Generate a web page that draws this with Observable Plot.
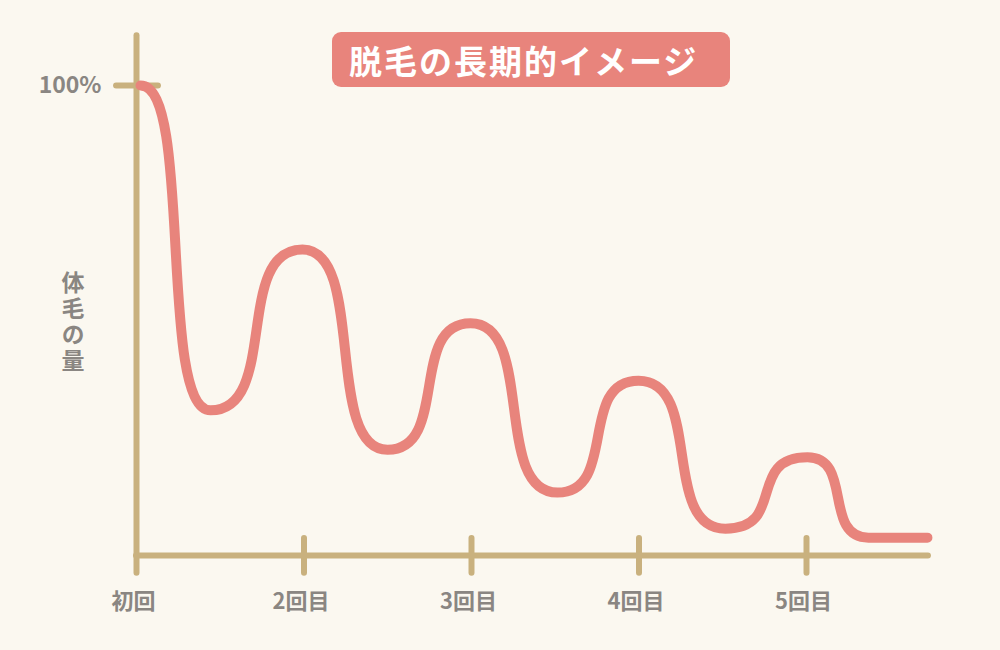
<!DOCTYPE html>
<html><head><meta charset="utf-8">
<script src="https://cdn.jsdelivr.net/npm/d3@7"></script>
<script src="https://cdn.jsdelivr.net/npm/@observablehq/plot@0.6"></script>
<style>
html,body{margin:0;padding:0;background:#FBF8F0;}
#wrap{position:relative;width:1000px;height:650px;overflow:hidden;}
#title{position:absolute;left:332px;top:32px;width:398px;height:55px;box-sizing:border-box;padding-left:17px;background:#E8847C;border-radius:9px;color:#fff;font:700 33px "Noto Sans CJK JP","Noto Sans",sans-serif;display:flex;align-items:center;letter-spacing:2px;}
</style>
</head><body>
<div id="wrap"><div id="title">脱毛の長期的イメージ</div></div>
<script>
// Data (x: treatment session index, 0 = 初回; y: amount of body hair in %)
const sessions = [0, 1, 2, 3, 4];
const tickLabels = ["初回", "2回目", "3回目", "4回目", "5回目"];
const yTickValue = [100];
const yTickLabel = ["100%"];
const yLabel = "体毛の量";
const titleText = "脱毛の長期的イメージ";
// peaks and troughs of the curve
const curveX = [0.024, 0.442, 0.991, 1.499, 1.994, 2.513, 2.997, 3.516, 4.006, 4.370, 4.722];
const curveY = [100.0, 30.9, 65.1, 22.5, 49.4, 13.4, 37.2, 5.7, 20.9, 3.8, 3.8];

const curveData = curveX.map((x, i) => ({x, y: curveY[i]}));
const axisColor = "#C9B17E";
const lineColor = "#E8847C";
const textColor = "#8A8682";
const font = '"Noto Sans CJK JP","Noto Sans",sans-serif';
const xEnd = 4.728;

// S-shaped curve between successive extrema (horizontal tangents, steep middle)
function plateauCurve(context) {
  const k = 0.75;
  let x0, y0, p = 0;
  return {
    areaStart() {}, areaEnd() {},
    lineStart() { p = 0; },
    lineEnd() {},
    point(x, y) {
      x = +x; y = +y;
      if (p === 0) { context.moveTo(x, y); p = 1; }
      else { const dx = x - x0; context.bezierCurveTo(x0 + k * dx, y0, x - k * dx, y, x, y); }
      x0 = x; y0 = y;
    }
  };
}

const chart = Plot.plot({
  width: 1000, height: 650,
  marginTop: 0, marginRight: 0, marginBottom: 0, marginLeft: 0,
  x: {domain: [0, 4], range: [136, 806], axis: null},
  y: {domain: [0, 100], range: [555, 85], axis: null},
  style: {background: "transparent", fontFamily: font},
  marks: [
    Plot.ruleY([0], {x1: 0, x2: xEnd, stroke: axisColor, strokeWidth: 6, strokeLinecap: "round"}),
    Plot.ruleX([0], {y1: -3.8, y2: 110.6, stroke: axisColor, strokeWidth: 6, strokeLinecap: "round"}),
    Plot.ruleX(sessions.slice(1), {y1: -3.8, y2: 3.6, stroke: axisColor, strokeWidth: 6, strokeLinecap: "round"}),
    Plot.ruleY(yTickValue, {x1: -0.119, x2: 0.131, stroke: axisColor, strokeWidth: 6, strokeLinecap: "round"}),
    Plot.line(curveData, {x: "x", y: "y", curve: plateauCurve, stroke: lineColor, strokeWidth: 10, strokeLinecap: "round", strokeLinejoin: "round"}),
    Plot.text(tickLabels, {x: (d, i) => sessions[i], y: () => 0, text: d => d, dy: 46, dx: -3, fill: textColor, fontSize: 22, fontWeight: "bold", letterSpacing: 1}),
    Plot.text(yTickLabel, {x: () => 0, y: (d, i) => yTickValue[i], text: d => d, dx: -35, textAnchor: "end", fill: textColor, fontSize: 23, fontWeight: "bold"}),
    Plot.text([yLabel], {frameAnchor: "left", textAnchor: "middle", y: () => 49.4, text: d => d, fill: textColor, fontSize: 23, fontWeight: "bold",
      render: (index, scales, values, dims, ctx, next) => {
        const g = next(index, scales, values, dims, ctx);
        d3.select(g).attr("transform", null);
        d3.select(g).selectAll("text")
          .attr("writing-mode", "vertical-rl")
          .style("writing-mode", "vertical-rl")
          .attr("letter-spacing", 3)
          .attr("dy", null)
          .attr("x", null).attr("y", null)
          .attr("transform", "translate(73,323)");
        return g;
      }})
  ]
});
document.getElementById("wrap").appendChild(chart);
</script>
</body></html>
